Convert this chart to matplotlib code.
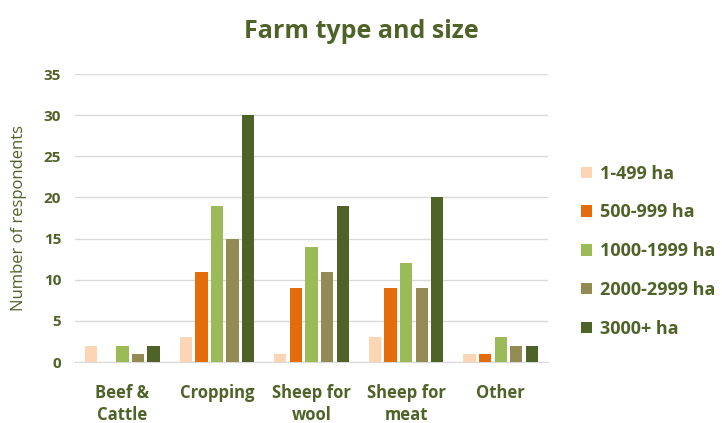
import numpy as np
import matplotlib.pyplot as plt

categories = ['Beef &\nCattle', 'Cropping', 'Sheep for\nwool', 'Sheep for\nmeat', 'Other']
sizes = ['1-499 ha', '500-999 ha', '1000-1999 ha', '2000-2999 ha', '3000+ ha']
values = [
    [2, 3, 1, 3, 1],      # 1-499 ha
    [0, 11, 9, 9, 1],     # 500-999 ha
    [2, 19, 14, 12, 3],   # 1000-1999 ha
    [1, 15, 11, 9, 2],    # 2000-2999 ha
    [2, 30, 19, 20, 2],   # 3000+ ha
]
colors = ['#FCD5B5', '#E46C0A', '#9BBB59', '#948A54', '#4F6228']
text_color = '#4F6228'

plt.rcParams['font.family'] = ['Open Sans', 'DejaVu Sans']

fig = plt.figure(figsize=(7.22, 4.23), dpi=100)
ax = fig.add_axes([0.104, 0.144, 0.655, 0.681])

x = np.arange(len(categories))
width = 0.13
step = 0.165
for i, (name, vals) in enumerate(zip(sizes, values)):
    ax.bar(x + (i - 2) * step, vals, width, color=colors[i], label=name, zorder=3)

ax.set_xlim(-0.5, len(categories) - 0.5)
ax.set_ylim(0, 35)
ax.set_yticks(range(0, 36, 5))
ax.set_xticks(x)
ax.set_xticklabels(categories, fontsize=12, fontweight='bold', color=text_color,
                   linespacing=1.25)
for lbl in ax.get_yticklabels():
    lbl.set_fontsize(11)
    lbl.set_fontweight('bold')
    lbl.set_color(text_color)
ax.tick_params(axis='x', length=0, pad=16)
ax.tick_params(axis='y', length=0, pad=10)
ax.grid(axis='y', color='#D9D9D9', linewidth=1, zorder=0)
for s in ['top', 'right', 'left']:
    ax.spines[s].set_visible(False)
ax.spines['bottom'].set_color('#D9D9D9')

ax.set_ylabel('Number of respondents', fontsize=12, color=text_color, labelpad=12)
fig.suptitle('Farm type and size', x=0.5, y=0.955, fontsize=18, fontweight='bold', color=text_color)

leg = ax.legend(loc='center left', bbox_to_anchor=(1.035, 0.385), frameon=False,
                handlelength=0.6, handleheight=0.6, labelspacing=1.15,
                prop={'size': 13, 'weight': 'bold'}, handletextpad=0.45)
for t in leg.get_texts():
    t.set_color(text_color)

plt.savefig('out.png', dpi=100)
